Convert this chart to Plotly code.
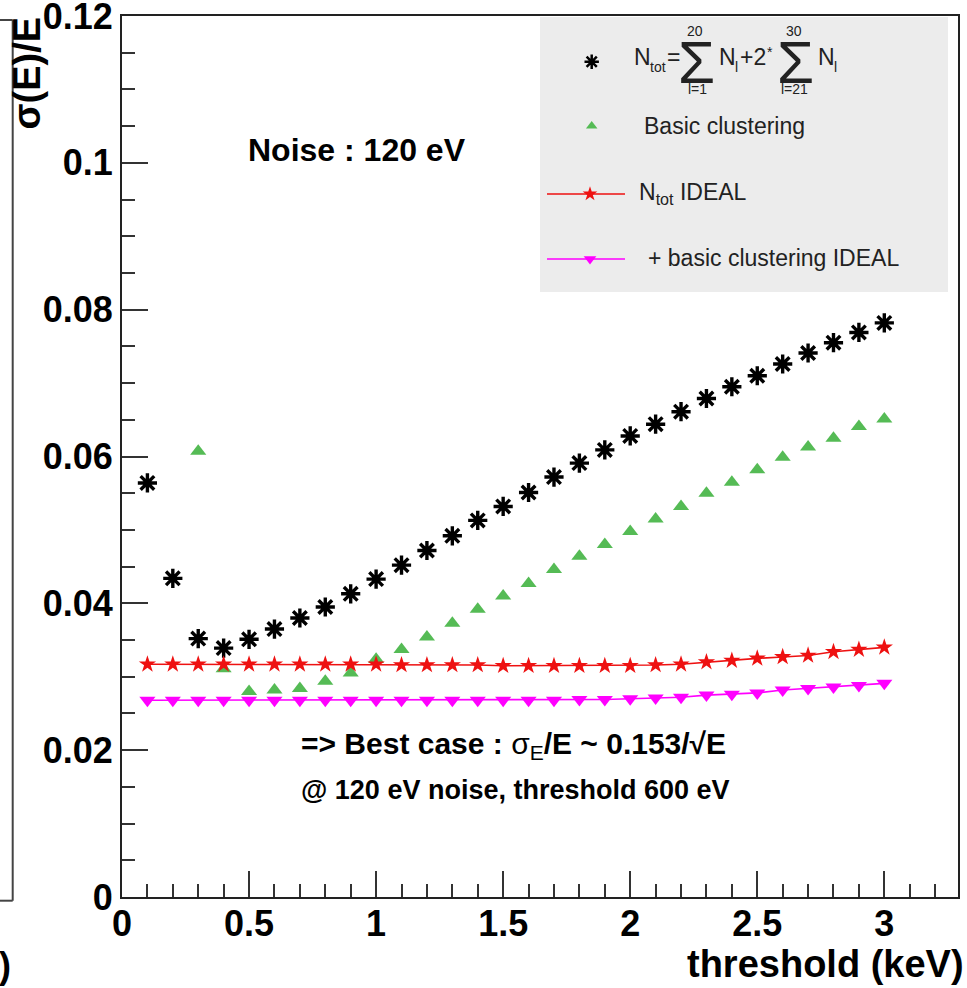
import plotly.graph_objects as go

# ---------------- data ----------------
threshold = [0.1, 0.2, 0.3, 0.4, 0.5, 0.6, 0.7, 0.8, 0.9, 1.0,
             1.1, 1.2, 1.3, 1.4, 1.5, 1.6, 1.7, 1.8, 1.9, 2.0,
             2.1, 2.2, 2.3, 2.4, 2.5, 2.6, 2.7, 2.8, 2.9, 3.0]

ntot = [0.0564, 0.0434, 0.0352, 0.0339, 0.0351, 0.0365, 0.0380, 0.0395, 0.0413, 0.0433,
        0.0452, 0.0472, 0.0492, 0.0513, 0.0532, 0.0551, 0.0572, 0.0591, 0.0609, 0.0628,
        0.0644, 0.0661, 0.0679, 0.0695, 0.0710, 0.0726, 0.0741, 0.0755, 0.0769, 0.0782]

basic_clustering = [None, None, 0.0607, 0.0311, 0.0280, 0.0282, 0.0284, 0.0294, 0.0305, 0.0324,
                    0.0337, 0.0354, 0.0373, 0.0392, 0.0410, 0.0427, 0.0446, 0.0464, 0.0480, 0.0498,
                    0.0515, 0.0532, 0.0550, 0.0565, 0.0582, 0.0599, 0.0613, 0.0625, 0.0641, 0.0651]

ntot_ideal = [0.0317, 0.0317, 0.0317, 0.0317, 0.0317, 0.0317, 0.0317, 0.0317, 0.0317, 0.0317,
              0.0316, 0.0316, 0.0316, 0.0316, 0.0315, 0.0315, 0.0315, 0.0315, 0.0315, 0.0315,
              0.0316, 0.0317, 0.0320, 0.0322, 0.0325, 0.0327, 0.0329, 0.0334, 0.0337, 0.0340]

clustering_ideal = [0.0268, 0.0268, 0.0268, 0.0268, 0.0268, 0.0268, 0.0268, 0.0268, 0.0268, 0.0268,
                    0.0268, 0.0268, 0.0268, 0.0268, 0.0268, 0.0268, 0.0268, 0.0269, 0.0269, 0.0270,
                    0.0271, 0.0272, 0.0275, 0.0276, 0.0278, 0.0282, 0.0284, 0.0286, 0.0288, 0.0291]

x_tickvals = [0, 0.5, 1, 1.5, 2, 2.5, 3]
x_ticktext = ["0", "0.5", "1", "1.5", "2", "2.5", "3"]
y_tickvals = [0, 0.02, 0.04, 0.06, 0.08, 0.1, 0.12]
y_ticktext = ["0", "0.02", "0.04", "0.06", "0.08", "0.1", "0.12"]

# ---------------- layout geometry (pixels) ----------------
W, H = 967, 988
L, R, T, B = 122, 958, 16, 897   # plot-area edges in pixels

def px(x):
    return (x - L) / (R - L)

def py(y):
    return (B - y) / (B - T)

FONT = "Liberation Sans, Arial, Helvetica, sans-serif"
BLACK = "#000000"
GREEN = "#55bb55"
RED = "#ee1111"
MAGENTA = "#ff00ff"

fig = go.Figure()

fig.add_trace(go.Scatter(x=threshold, y=ntot, mode="markers",
                         marker=dict(symbol="asterisk-open", size=16, color=BLACK,
                                     line=dict(color=BLACK, width=3.4)),
                         showlegend=False))
fig.add_trace(go.Scatter(x=threshold, y=basic_clustering, mode="markers",
                         marker=dict(symbol="triangle-up", size=14, color=GREEN),
                         showlegend=False))
fig.add_trace(go.Scatter(x=threshold, y=ntot_ideal, mode="lines+markers",
                         line=dict(color=RED, width=1.6),
                         marker=dict(symbol="star", size=13, color=RED),
                         showlegend=False))
fig.add_trace(go.Scatter(x=threshold, y=clustering_ideal, mode="lines+markers",
                         line=dict(color=MAGENTA, width=1.6),
                         marker=dict(symbol="triangle-down", size=14, color=MAGENTA),
                         showlegend=False))

# ---------------- hand-drawn legend (pixel overlay axes) ----------------
fig.add_trace(go.Scatter(x=[591.7], y=[61.7], mode="markers", xaxis="x2", yaxis="y2",
                         marker=dict(symbol="asterisk-open", size=12, color=BLACK,
                                     line=dict(color=BLACK, width=2.5)),
                         showlegend=False, hoverinfo="skip"))
fig.add_trace(go.Scatter(x=[591.7], y=[126], mode="markers", xaxis="x2", yaxis="y2",
                         marker=dict(symbol="triangle-up", size=10, color=GREEN),
                         showlegend=False, hoverinfo="skip"))
fig.add_trace(go.Scatter(x=[547, 625], y=[194, 194], mode="lines", xaxis="x2", yaxis="y2",
                         line=dict(color=RED, width=1.6), showlegend=False, hoverinfo="skip"))
fig.add_trace(go.Scatter(x=[590], y=[194], mode="markers", xaxis="x2", yaxis="y2",
                         marker=dict(symbol="star", size=11, color=RED),
                         showlegend=False, hoverinfo="skip"))
fig.add_trace(go.Scatter(x=[547, 625], y=[259, 259], mode="lines", xaxis="x2", yaxis="y2",
                         line=dict(color=MAGENTA, width=1.6), showlegend=False, hoverinfo="skip"))
fig.add_trace(go.Scatter(x=[590], y=[259], mode="markers", xaxis="x2", yaxis="y2",
                         marker=dict(symbol="triangle-down", size=11, color=MAGENTA),
                         showlegend=False, hoverinfo="skip"))

shapes = [
    # legend background
    dict(type="rect", xref="paper", yref="paper", x0=px(540), x1=px(948), y0=py(17), y1=py(292),
         fillcolor="#ececec", line=dict(width=0), layer="below"),
    # remnant of neighbouring pad on the far left
    dict(type="line", xref="paper", yref="paper", x0=px(12.7), x1=px(12.7), y0=py(20), y1=py(900.7),
         line=dict(color="#444444", width=2)),
    dict(type="line", xref="paper", yref="paper", x0=px(-2), x1=px(12.7), y0=py(20), y1=py(20),
         line=dict(color="#444444", width=2)),
    dict(type="line", xref="paper", yref="paper", x0=px(-2), x1=px(12.7), y0=py(900.7), y1=py(900.7),
         line=dict(color="#444444", width=2)),
]

LEG = dict(family=FONT, size=23, color="#222222")
MID = dict(family=FONT, size=23, color="#222222")
SUB = dict(family=FONT, size=14, color="#222222")
SMALL = dict(family=FONT, size=14, color="#222222")
SIG = dict(family=FONT, size=60, color="#222222")

def ann(text, x, y, font, xanchor="left", yanchor="middle", **kw):
    return dict(text=text, x=px(x), y=py(y), xref="paper", yref="paper",
                xanchor=xanchor, yanchor=yanchor, showarrow=False, font=font, **kw)

annotations = [
    # legend entry 1: N_tot = sum_{l=1}^{20} N_l + 2* sum_{l=21}^{30} N_l
    ann("N", 632, 57, MID),
    ann("tot", 648, 67, SUB),
    ann("=", 665, 57, MID),
    ann("Σ", 696, 62, SIG, xanchor="center"),
    ann("20", 695, 31, SMALL, xanchor="center"),
    ann("l=1", 697, 89, SMALL, xanchor="center"),
    ann("N", 717, 57, MID),
    ann("l", 733, 67, SUB),
    ann("+2", 738, 57, MID),
    ann("*", 765, 52, SUB),
    ann("Σ", 795, 62, SIG, xanchor="center"),
    ann("30", 794, 31, SMALL, xanchor="center"),
    ann("l=21", 794, 89, SMALL, xanchor="center"),
    ann("N", 816, 57, MID),
    ann("l", 832, 67, SUB),
    # other legend entries
    ann("Basic clustering", 642, 126, LEG),
    ann("N<sub>tot</sub> IDEAL", 637, 193, LEG),
    ann("+ basic clustering IDEAL", 646, 258, LEG),
    # in-plot texts
    ann("<b>Noise : 120 eV</b>", 357, 150, dict(family=FONT, size=32, color="#000000"),
        xanchor="center"),
    ann("<b>=> Best case : </b>σ<sub>E</sub><b>/E ~ 0.153/√E</b>", 299, 745,
        dict(family=FONT, size=30, color="#000000")),
    ann("<b>@ 120 eV noise, threshold 600 eV</b>", 299, 790,
        dict(family=FONT, size=27, color="#000000")),
    # axis titles
    ann("<b>threshold (keV)</b>", 966, 964, dict(family=FONT, size=38, color="#000000"),
        xanchor="right"),
    ann("<b>σ(E)/E</b>", 26, 132, dict(family=FONT, size=38, color="#000000"),
        xanchor="center", yanchor="bottom", textangle=-90),
    ann("<b>)</b>", 5, 966, dict(family=FONT, size=36, color="#000000"), xanchor="center"),
]

fig.update_layout(
    width=W, height=H,
    margin=dict(l=L, r=W - R, t=T, b=H - B, pad=0, autoexpand=False),
    paper_bgcolor="white", plot_bgcolor="white",
    font=dict(family=FONT, color="#000000"),
    showlegend=False,
    shapes=shapes,
    annotations=annotations,
    xaxis=dict(range=[0, 3.29], tickmode="array", tickvals=x_tickvals, ticktext=x_ticktext,
               ticks="inside", ticklen=26, tickwidth=1.6, tickcolor="#333333",
               ticklabelstandoff=-6, ticklabeloverflow="allow", automargin=False,
               minor=dict(ticks="inside", ticklen=13, tickwidth=1.6, tickcolor="#333333",
                          tick0=0, dtick=0.1, showgrid=False),
               showline=True, linecolor="#222222", linewidth=2, mirror=True,
               showgrid=False, zeroline=False,
               tickfont=dict(family=FONT, size=36, color="#000000", weight="bold")),
    yaxis=dict(range=[0, 0.120001], tickmode="array", tickvals=y_tickvals, ticktext=y_ticktext,
               ticks="inside", ticklen=26, tickwidth=1.6, tickcolor="#333333",
               ticklabeloverflow="allow", automargin=False,
               minor=dict(ticks="inside", ticklen=13, tickwidth=1.6, tickcolor="#333333",
                          tick0=0, dtick=0.005, showgrid=False),
               showline=True, linecolor="#222222", linewidth=2, mirror=True,
               showgrid=False, zeroline=False,
               tickfont=dict(family=FONT, size=36, color="#000000", weight="bold")),
    xaxis2=dict(range=[L, R], overlaying="x", visible=False, fixedrange=True),
    yaxis2=dict(range=[B, T], overlaying="y", visible=False, fixedrange=True),
)

fig.write_html("out.html")
